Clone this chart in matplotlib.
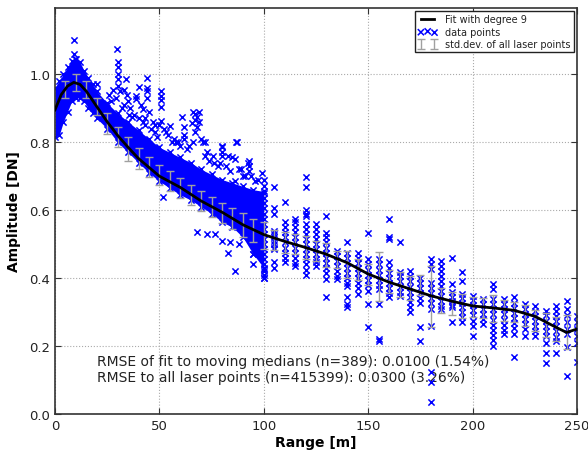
import matplotlib
matplotlib.use("Agg")
import matplotlib.pyplot as plt

# fitted curve (degree 9)
fit_x = [0, 3, 6, 9, 12, 15, 20, 25, 30, 35, 40, 50, 60, 70, 80, 90, 100,
         110, 120, 130, 140, 150, 160, 170, 180, 190, 200, 210, 220, 230,
         240, 245, 250]
fit_y = [0.895, 0.94, 0.965, 0.976, 0.97, 0.95, 0.905, 0.86, 0.82, 0.785,
         0.752, 0.70, 0.667, 0.627, 0.594, 0.557, 0.528, 0.508, 0.49, 0.47,
         0.445, 0.412, 0.388, 0.368, 0.348, 0.332, 0.318, 0.312, 0.305,
         0.287, 0.255, 0.24, 0.25]

# moving medians and std.dev. of all laser points
err_x = [5, 10, 15, 20, 25, 30, 35, 40, 45, 50, 55, 60, 65, 70, 75, 80, 85,
         90, 95, 100, 105, 110, 115, 120, 125, 130, 135, 140, 145, 150, 155,
         160, 165, 170, 175, 180, 185, 190, 195, 200, 205, 210, 215, 220,
         225, 230, 235, 240, 245]
err_y = [0.955, 0.975, 0.955, 0.905, 0.855, 0.815, 0.78, 0.752, 0.727, 0.703,
         0.685, 0.665, 0.645, 0.627, 0.61, 0.592, 0.575, 0.557, 0.54, 0.525,
         0.513, 0.505, 0.50, 0.49, 0.48, 0.468, 0.455, 0.44, 0.425, 0.41,
         0.405, 0.39, 0.382, 0.37, 0.38, 0.346, 0.335, 0.325, 0.318, 0.315,
         0.312, 0.31, 0.305, 0.30, 0.29, 0.275, 0.262, 0.25, 0.24]
err_sd = [0.025, 0.025, 0.025, 0.025, 0.03, 0.03, 0.035, 0.03, 0.03, 0.03,
          0.03, 0.03, 0.03, 0.03, 0.03, 0.03, 0.03, 0.035, 0.035, 0.04,
          0.03, 0.03, 0.03, 0.035, 0.03, 0.035, 0.025, 0.04, 0.03, 0.03,
          0.072, 0.035, 0.037, 0.035, 0.03, 0.09, 0.037, 0.035, 0.035, 0.03,
          0.03, 0.04, 0.03, 0.03, 0.03, 0.03, 0.035, 0.035, 0.05]

# dense part of the point cloud below 100 m: lower / upper edge
band_x = [0, 2, 4, 6, 8, 10, 12, 14, 16, 18, 20, 25, 30, 35, 40, 45, 50, 55,
          60, 65, 70, 75, 80, 85, 90, 95, 100]
band_lo = [0.815, 0.82, 0.86, 0.89, 0.92, 0.93, 0.93, 0.92, 0.90, 0.885,
           0.87, 0.84, 0.80, 0.77, 0.74, 0.71, 0.685, 0.665, 0.645, 0.63,
           0.61, 0.59, 0.565, 0.55, 0.52, 0.47, 0.43]
band_hi = [0.96, 0.98, 1.0, 1.02, 1.04, 1.045, 1.035, 1.01, 0.99, 0.97,
           0.95, 0.915, 0.885, 0.86, 0.835, 0.81, 0.785, 0.77, 0.755, 0.74,
           0.72, 0.705, 0.69, 0.68, 0.67, 0.66, 0.655]

# scattered points around the dense part
sc_x = [9, 9, 9.5, 20, 26, 28, 29.7, 30, 30, 30, 30, 30, 29, 31, 27,
        34, 34.5, 33, 35, 36, 33, 35.5, 40, 39, 39, 41, 42, 38, 40, 42,
        44, 44, 44, 44, 45, 43, 47, 46, 48, 48, 51, 51, 51, 51, 51, 50,
        52, 53, 55, 54, 51.5, 59, 61, 62, 62, 62, 60, 58, 65.5, 66, 67,
        68, 67, 68, 67, 69, 69, 66, 70, 71, 72, 74, 73, 75.6, 72, 80, 80,
        80, 80, 83, 79, 82, 86.6, 87, 85, 86, 86, 88, 93, 93, 93, 92.5,
        91, 94, 99, 68, 73, 76.5, 80, 83, 84, 86, 88, 95, 95, 95, 96, 98,
        100, 100, 64, 57, 76, 89, 97, 32, 37, 43, 49, 56, 63, 78, 84, 90,
        96]
sc_y = [1.10, 1.06, 1.045, 0.97, 0.94, 0.955, 1.074, 1.035, 1.02, 1.0,
        0.985, 0.965, 0.93, 0.95, 0.92, 0.985, 0.94, 0.91, 0.92, 0.90,
        0.955, 0.88, 0.962, 0.935, 0.926, 0.91, 0.897, 0.88, 0.87, 0.86,
        0.99, 0.96, 0.95, 0.93, 0.89, 0.87, 0.858, 0.84, 0.85, 0.83, 0.95,
        0.935, 0.925, 0.905, 0.862, 0.85, 0.84, 0.83, 0.848, 0.82, 0.64,
        0.80, 0.873, 0.845, 0.82, 0.81, 0.79, 0.80, 0.857, 0.888, 0.883,
        0.875, 0.865, 0.845, 0.83, 0.89, 0.86, 0.80, 0.81, 0.80, 0.80,
        0.745, 0.77, 0.76, 0.76, 0.79, 0.785, 0.77, 0.76, 0.76, 0.74,
        0.73, 0.80, 0.80, 0.755, 0.75, 0.686, 0.72, 0.745, 0.73, 0.715,
        0.74, 0.70, 0.70, 0.71, 0.535, 0.53, 0.53, 0.51, 0.475, 0.505,
        0.42, 0.50, 0.50, 0.47, 0.44, 0.51, 0.50, 0.42, 0.40, 0.79, 0.81,
        0.74, 0.72, 0.69, 0.90, 0.875, 0.85, 0.815, 0.80, 0.78, 0.73,
        0.715, 0.70, 0.685]

# point columns beyond 100 m
col_x = [100, 105, 110, 115, 120, 125, 130, 135, 140, 145, 150, 155, 160,
         165, 170, 175, 180, 185, 190, 195, 200, 205, 210, 215, 220, 225,
         230, 235, 240, 245, 250]
col_y = [
    [0.69, 0.67, 0.65, 0.635, 0.62, 0.605, 0.59, 0.575, 0.56, 0.545, 0.53,
     0.515, 0.50, 0.485, 0.47, 0.455, 0.44, 0.426, 0.41, 0.40],
    [0.667, 0.605, 0.59, 0.54, 0.53, 0.52, 0.51, 0.50, 0.49, 0.485, 0.446,
     0.43],
    [0.624, 0.564, 0.55, 0.535, 0.52, 0.505, 0.49, 0.475, 0.46, 0.446],
    [0.574, 0.564, 0.55, 0.535, 0.52, 0.505, 0.49, 0.475, 0.46, 0.445,
     0.436],
    [0.697, 0.667, 0.60, 0.59, 0.583, 0.56, 0.545, 0.53, 0.515, 0.50, 0.485,
     0.47, 0.455, 0.44, 0.425, 0.41],
    [0.56, 0.544, 0.53, 0.515, 0.50, 0.485, 0.47, 0.455, 0.446, 0.436],
    [0.583, 0.534, 0.52, 0.505, 0.49, 0.475, 0.46, 0.445, 0.43, 0.415,
     0.397, 0.343],
    [0.48, 0.465, 0.45, 0.435, 0.42, 0.405, 0.397],
    [0.505, 0.475, 0.46, 0.445, 0.43, 0.415, 0.40, 0.385, 0.377, 0.343,
     0.324, 0.314],
    [0.475, 0.46, 0.445, 0.43, 0.415, 0.40, 0.385, 0.37, 0.353],
    [0.534, 0.456, 0.44, 0.425, 0.41, 0.395, 0.38, 0.363, 0.324, 0.255],
    [0.456, 0.44, 0.425, 0.41, 0.395, 0.38, 0.368, 0.324, 0.22, 0.215],
    [0.574, 0.52, 0.515, 0.446, 0.43, 0.415, 0.40, 0.385, 0.37, 0.355,
     0.343],
    [0.505, 0.417, 0.405, 0.39, 0.375, 0.36, 0.348],
    [0.42, 0.405, 0.39, 0.375, 0.36, 0.345, 0.33, 0.315, 0.30],
    [0.40, 0.385, 0.37, 0.355, 0.34, 0.328, 0.255, 0.216],
    [0.456, 0.44, 0.426, 0.387, 0.372, 0.357, 0.342, 0.327, 0.309, 0.26,
     0.123, 0.093, 0.034],
    [0.45, 0.435, 0.42, 0.405, 0.39, 0.377, 0.362, 0.347, 0.332, 0.318,
     0.309],
    [0.46, 0.382, 0.358, 0.345, 0.333, 0.322, 0.314, 0.27],
    [0.417, 0.392, 0.353, 0.34, 0.327, 0.314, 0.30, 0.285, 0.27],
    [0.348, 0.335, 0.32, 0.305, 0.29, 0.275, 0.26, 0.23],
    [0.338, 0.325, 0.31, 0.295, 0.28, 0.265],
    [0.382, 0.368, 0.338, 0.323, 0.308, 0.293, 0.278, 0.263, 0.248, 0.233,
     0.218, 0.20],
    [0.338, 0.323, 0.308, 0.293, 0.278, 0.263, 0.248, 0.235],
    [0.343, 0.328, 0.313, 0.298, 0.283, 0.268, 0.253, 0.235, 0.167],
    [0.324, 0.309, 0.294, 0.279, 0.264, 0.249, 0.23],
    [0.318, 0.303, 0.288, 0.273, 0.258, 0.243, 0.23],
    [0.304, 0.29, 0.275, 0.26, 0.245, 0.23, 0.21, 0.18, 0.15],
    [0.318, 0.303, 0.288, 0.273, 0.258, 0.243, 0.228, 0.216, 0.18],
    [0.333, 0.31, 0.29, 0.27, 0.25, 0.235, 0.196, 0.113],
    [0.289, 0.27, 0.25, 0.23, 0.21, 0.152],
]

rmse_lines = ["RMSE of fit to moving medians (n=389): 0.0100 (1.54%)",
              "RMSE to all laser points (n=415399): 0.0300 (3.26%)"]

blue = "#0000ff"
plt.rcParams["font.family"] = "DejaVu Sans"
plt.rcParams["text.color"] = "#222222"

fig = plt.figure(figsize=(5.88, 4.52), dpi=100)
ax = fig.add_axes([0.0935, 0.0819, 0.8878, 0.8982])

# collect all points
px = list(band_x) + list(band_x) + list(sc_x)
py = list(band_lo) + list(band_hi) + list(sc_y)
for cx, ys in zip(col_x, col_y):
    px += [cx] * len(ys)
    py += ys

ax.fill_between(band_x, band_lo, band_hi, color=blue, lw=0, zorder=1)
pts = ax.scatter(px, py, marker="x", s=20, c=blue, linewidths=1.1,
                 zorder=1, label="data points")
eb = ax.errorbar(err_x, err_y, yerr=err_sd, fmt="none", ecolor="#a0a0a0",
                 elinewidth=1.0, capsize=3, capthick=1.0, zorder=2,
                 label="std.dev. of all laser points")
fit, = ax.plot(fit_x, fit_y, color="black", lw=2, zorder=3,
               label="Fit with degree 9")

ax.text(20, 0.155, rmse_lines[0], fontsize=10, va="center", zorder=0)
ax.text(20, 0.11, rmse_lines[1], fontsize=10, va="center", zorder=0)

ax.set_xlim(0, 250)
ax.set_ylim(0, 1.195)
ax.set_xticks([0, 50, 100, 150, 200, 250])
ax.set_yticks([0.0, 0.2, 0.4, 0.6, 0.8, 1.0])
ax.set_yticklabels(["0.0", "0.2", "0.4", "0.6", "0.8", "1.0"])
ax.tick_params(direction="in", top=True, right=True, labelsize=9.5,
               colors="#333333", labelcolor="#222222", length=4)
ax.grid(True, color="#aaaaaa", linestyle=":", linewidth=0.8)
ax.set_axisbelow(True)
for s in ax.spines.values():
    s.set_color("#333333")
    s.set_linewidth(1.2)

ax.set_xlabel("Range [m]", fontsize=10, fontweight="bold", labelpad=2)
ax.set_ylabel("Amplitude [DN]", fontsize=10, fontweight="bold", labelpad=6)

leg = ax.legend([fit, pts, eb],
                ["Fit with degree 9", "data points",
                 "std.dev. of all laser points"],
                loc="upper right", fontsize=7, fancybox=False,
                framealpha=1, edgecolor="#222222", scatterpoints=3,
                numpoints=2, borderaxespad=0.35, handlelength=2.0,
                borderpad=0.3, labelspacing=0.25)
leg.get_frame().set_linewidth(1.0)

fig.savefig("out.png", dpi=100)
